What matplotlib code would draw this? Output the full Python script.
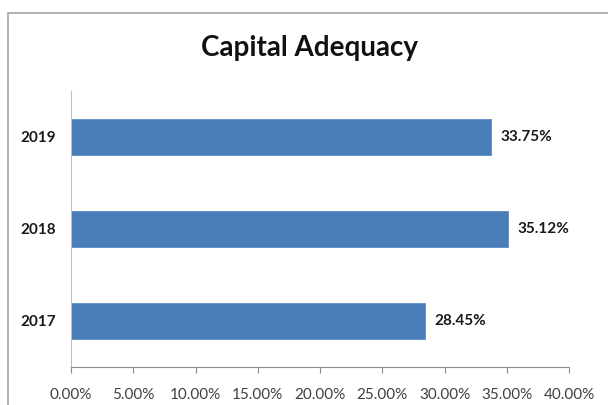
import matplotlib.pyplot as plt
from matplotlib.patches import Rectangle
from matplotlib.ticker import FuncFormatter

years = ['2017', '2018', '2019']
ratios = [28.45, 35.12, 33.75]
xticks = [0, 5, 10, 15, 20, 25, 30, 35, 40]

fig = plt.figure(figsize=(6.08, 4.05), dpi=100)
fig.patch.set_facecolor('white')

# outer chart frame (cut off at right/bottom like the screenshot)
fig.patches.append(Rectangle((8 / 608, -0.1), 1.2, (405 - 13) / 405 + 0.1,
                             transform=fig.transFigure, fill=False,
                             edgecolor='#a6a6a6', linewidth=1.2))

ax = fig.add_axes([71 / 608, 38 / 405, 498 / 608, 276 / 405])
pos = range(len(years))
ax.barh(pos, ratios, height=0.4, color='#4a7ebb', edgecolor='#5b8cc7', linewidth=0.6)

for p, v in zip(pos, ratios):
    ax.text(v + 0.75, p, f'{v:.2f}%', va='center', ha='left',
            fontsize=11, fontweight='bold', color='#1a1a1a', family='Lato')

ax.set_xlim(0, 40)
ax.set_ylim(-0.5, 2.5)
ax.set_xticks(xticks)
ax.xaxis.set_major_formatter(FuncFormatter(lambda x, _: f'{x:.2f}%'))
ax.set_yticks(list(pos))
ax.set_yticklabels(years, fontweight='bold', fontsize=11, family='Lato', color='#1a1a1a')
for lab in ax.get_xticklabels():
    lab.set_family('Lato')
    lab.set_fontsize(11)
    lab.set_color('#404040')

for s in ['top', 'right']:
    ax.spines[s].set_visible(False)
ax.spines['left'].set_color('#bfbfbf')
ax.spines['bottom'].set_color('#8c8c8c')
ax.tick_params(axis='x', length=4, color='#8c8c8c', pad=11)
ax.tick_params(axis='y', length=0, pad=11)

fig.text(310 / 608, (405 - 48) / 405, 'Capital Adequacy',
         ha='center', va='center', fontsize=20, fontweight='bold', family='Lato',
         color='#111111')

fig.savefig('out.png', dpi=100)
